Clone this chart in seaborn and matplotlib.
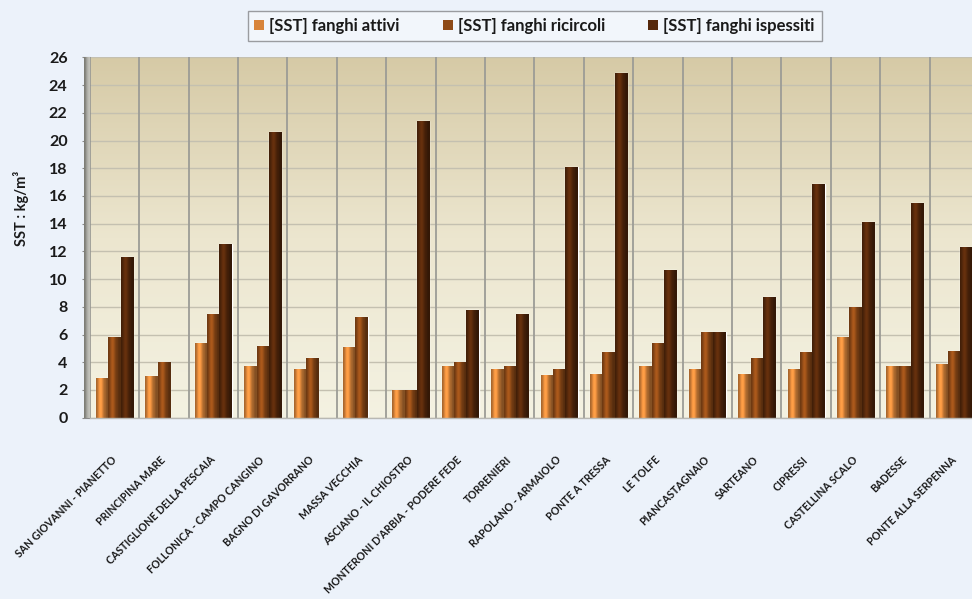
import numpy as np
import pandas as pd
import matplotlib
matplotlib.use("Agg")
import matplotlib.pyplot as plt
import seaborn as sns
from matplotlib.patches import Patch
from matplotlib.colors import to_rgb

impianti = [
    "SAN GIOVANNI - PIANETTO", "PRINCIPINA MARE", "CASTIGLIONE DELLA PESCAIA",
    "FOLLONICA - CAMPO CANGINO", "BAGNO DI GAVORRANO", "MASSA VECCHIA",
    "ASCIANO - IL CHIOSTRO", "MONTERONI D'ARBIA - PODERE FEDE", "TORRENIERI",
    "RAPOLANO - ARMAIOLO", "PONTE A TRESSA", "LE TOLFE", "PIANCASTAGNAIO",
    "SARTEANO", "CIPRESSI", "CASTELLINA SCALO", "BADESSE", "PONTE ALLA SERPENNA",
]
serie = ["[SST] fanghi attivi", "[SST] fanghi ricircoli", "[SST] fanghi ispessiti"]
fanghi_attivi = [2.9, 3.0, 5.4, 3.7, 3.5, 5.1, 2.0, 3.7, 3.5, 3.1, 3.15, 3.7, 3.5, 3.15, 3.5, 5.8, 3.7, 3.9]
fanghi_ricircoli = [5.8, 4.0, 7.5, 5.2, 4.3, 7.3, 2.0, 4.0, 3.7, 3.55, 4.75, 5.4, 6.2, 4.3, 4.75, 8.0, 3.7, 4.8]
fanghi_ispessiti = [11.6, np.nan, 12.5, 20.6, np.nan, np.nan, 21.4, 7.8, 7.5, 18.1, 24.9, 10.65, 6.2, 8.7, 16.9, 14.1, 15.5, 12.3]
colori = ["#D8843A", "#8E4A17", "#55280B"]

df = pd.DataFrame({
    "impianto": impianti * 3,
    "serie": [serie[0]] * len(impianti) + [serie[1]] * len(impianti) + [serie[2]] * len(impianti),
    "valore": fanghi_attivi + fanghi_ricircoli + fanghi_ispessiti,
})

sns.set_style("white")
plt.rcParams["font.family"] = ["Lato", "DejaVu Sans"]
plt.rcParams["font.weight"] = "bold"

W, H = 972, 599
fig = plt.figure(figsize=(W / 100, H / 100), dpi=100)
fig.patch.set_facecolor("#ECF2FA")

left_px, right_px, top_px, bot_px = 89.8, 979.0, 57.4, 417.7
ax = fig.add_axes([left_px / W, 1 - bot_px / H, (right_px - left_px) / W, (bot_px - top_px) / H])

sns.barplot(data=df, x="impianto", y="valore", hue="serie", order=impianti,
            hue_order=serie, palette=colori, saturation=1, width=0.75,
            errorbar=None, legend=False, ax=ax, zorder=2)

# background gradient (back wall)
grad = np.linspace(0, 1, 256)
top_c = np.array(to_rgb("#D6CAA6"))
mid_c = np.array(to_rgb("#ECE6CF"))
bot_c = np.array(to_rgb("#F4F2E2"))
img = np.zeros((256, 1, 3))
for i, g in enumerate(grad):
    if g < 0.5:
        img[i, 0] = top_c + (mid_c - top_c) * (g / 0.5)
    else:
        img[i, 0] = mid_c + (bot_c - mid_c) * ((g - 0.5) / 0.5)
ax.imshow(img, extent=[0, 1, 0, 1], transform=ax.transAxes, aspect="auto",
          origin="upper", zorder=0)

ax.set_ylim(0, 26)
ax.set_xlim(-0.5, len(impianti) - 0.5)
ax.set_yticks(np.arange(0, 27, 2))
ax.yaxis.grid(True, color="#C4C0B0", linewidth=1.0, zorder=0.5)
ax.xaxis.grid(False)
for b in np.arange(-0.5, len(impianti), 1.0):
    ax.axvline(b, color="#9C9C96", linewidth=1.3, zorder=0.6)

# cylinder shading on bars
t = np.linspace(0, 1, 64)
shade = 0.72 + 0.5 * np.exp(-((t - 0.35) / 0.22) ** 2)
shade[t > 0.8] *= 0.85
for p in list(ax.patches):
    h = p.get_height()
    if not np.isfinite(h) or h <= 0:
        continue
    base = np.array(p.get_facecolor()[:3])
    cols = np.clip(base[None, :] * shade[:, None], 0, 1)
    x0 = p.get_x()
    w = p.get_width()
    im = ax.imshow(cols[None, :, :], extent=[x0, x0 + w, 0, h], aspect="auto",
                   zorder=2.1, interpolation="bilinear")
    im.set_clip_path(p)

for s in ["top", "right", "left"]:
    ax.spines[s].set_visible(False)
ax.spines["bottom"].set_color("#B8B8B4")
ax.spines["bottom"].set_linewidth(1.0)

ax.tick_params(axis="y", length=6, color="#8A8A8A", pad=10, labelsize=11.5,
               labelcolor="#1A1A1A", direction="out", left=True)
ax.tick_params(axis="x", length=0, pad=29, labelsize=7.6, labelcolor="#1A1A1A")
for lab in ax.get_yticklabels():
    lab.set_fontweight("bold")
for lab in ax.get_xticklabels():
    lab.set_rotation(45)
    lab.set_ha("right")
    lab.set_va("center")
    lab.set_rotation_mode("anchor")
    lab.set_fontweight("bold")

ax.set_xlabel("")
ax.set_ylabel("")

# left side wall
wall_w = 6 / (right_px - left_px)
wall = np.array([to_rgb("#7E7E76"), to_rgb("#A9A9A2"), to_rgb("#C2C2BA")])[None, :, :]
ax.imshow(wall, extent=[-wall_w, 0, 0, 1], transform=ax.transAxes, aspect="auto",
          zorder=3, clip_on=False, interpolation="bilinear")
ax.set_xlim(-0.5, len(impianti) - 0.5)
ax.set_ylim(0, 26)

fig.text(21 / W, 1 - 208 / H, "SST : kg/m\u00b3", rotation=90, ha="center", va="center",
         fontsize=10.5, fontweight="bold", color="#1A1A1A")

handles = [Patch(facecolor=c, edgecolor="none") for c in colori]
leg = fig.legend(handles, serie, loc="center", bbox_to_anchor=(534.5 / W, 1 - 26 / H),
                 ncol=3, frameon=True, fancybox=False, edgecolor="#9A9CA0",
                 facecolor="#F2F6FB", framealpha=1, fontsize=12,
                 handlelength=0.6, handleheight=0.6, handletextpad=0.3,
                 columnspacing=2.6, borderpad=0.4)
leg.get_frame().set_linewidth(1.0)
for txt in leg.get_texts():
    txt.set_fontweight("bold")
    txt.set_color("#1A1A1A")

fig.savefig("out.png", dpi=100, facecolor=fig.get_facecolor())
